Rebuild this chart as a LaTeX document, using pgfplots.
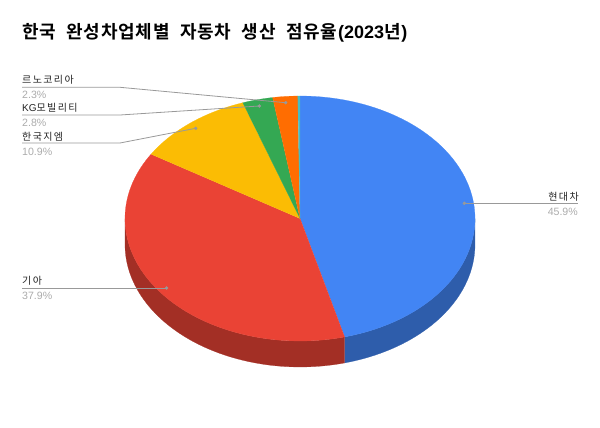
\documentclass[border=0pt]{standalone}
\usepackage{fontspec}
\setmainfont{Liberation Sans}
\newfontfamily\cjk[LetterSpace=14]{Noto Sans CJK KR}
\newfontfamily\cjkt[LetterSpace=4,WordSpace=2.2,BoldFont={Noto Sans CJK KR Bold}]{Noto Sans CJK KR}
\usepackage{pgfplots}
\pgfplotsset{compat=1.18}
\definecolor{cblue}{HTML}{4285F4}
\definecolor{cred}{HTML}{EA4335}
\definecolor{cyellow}{HTML}{FBBC04}
\definecolor{cgreen}{HTML}{34A853}
\definecolor{corange}{HTML}{FF6D01}
\definecolor{cteal}{HTML}{46BDC6}
\definecolor{dblue}{HTML}{2E5DAB}
\definecolor{dred}{HTML}{A32F25}
\definecolor{lead}{HTML}{999999}
\definecolor{pct}{HTML}{ABABAB}
\definecolor{lab}{HTML}{222222}
\newcommand{\addarc}[4]{% macro, from %, to %, y offset
  \pgfmathtruncatemacro\npts{max(2,ceil(abs(#3-#2)/0.5))}%
  \foreach \i in {0,...,\npts}{%
    \pgfmathsetmacro\t{(#2+(#3-#2)*\i/\npts)*3.6}%
    \pgfmathsetmacro\px{300+175*sin(\t)}%
    \pgfmathsetmacro\py{218.5-122.5*cos(\t)+#4}%
    \xdef#1{#1 (\px,\py)}%
  }%
}
\newcommand{\pieslice}[3]{% colour, from %, to %
  \gdef\coords{(300,218.5)}%
  \addarc{\coords}{#2}{#3}{0}%
  \edef\doit{\noexpand\addplot[fill=#1,draw=#1,line width=0.2pt] coordinates {\coords};}\doit
}
\newcommand{\pieside}[3]{% colour, from %, to %
  \gdef\coords{}%
  \addarc{\coords}{#2}{#3}{0}%
  \addarc{\coords}{#3}{#2}{26}%
  \edef\doit{\noexpand\addplot[fill=#1,draw=#1,line width=0.2pt] coordinates {\coords};}\doit
}
\newcommand{\lbl}[3]{\node[anchor=base west,inner sep=0pt] at (axis cs:#1,#2) {#3};}
\newcommand{\lblr}[3]{\node[anchor=base east,inner sep=0pt] at (axis cs:#1,#2) {#3};}
\newcommand{\name}[1]{\fontsize{10}{12}\selectfont\color{lab}#1}
\newcommand{\share}[1]{\fontsize{10.6}{12}\selectfont\color{pct}#1}
\begin{document}
\begin{tikzpicture}
\path[use as bounding box] (0,0) rectangle (600pt,428pt);
\begin{axis}[
  scale only axis, width=600pt, height=428pt,
  xmin=0, xmax=600, ymin=0, ymax=428, y dir=reverse,
  axis lines=none, clip=false, no markers,
]
% side wall (only the front half is visible)
\pieside{dblue}{25}{45.9}
\pieside{dred}{45.9}{75}
% top face; cumulative shares: 45.9, 37.9, 10.9, 2.8, 2.3, 0.2
\pieslice{cblue}{0}{45.9}
\pieslice{cred}{45.9}{83.8}
\pieslice{cyellow}{83.8}{94.7}
\pieslice{cgreen}{94.7}{97.5}
\pieslice{corange}{97.5}{99.8}
\pieslice{cteal}{99.8}{100}
% leaders
\addplot[lead,line width=0.8pt] coordinates {(22,87.3) (120,87.3) (285.7,102.7)};
\addplot[lead,line width=0.8pt] coordinates {(22,115) (120,115) (259.3,106)};
\addplot[lead,line width=0.8pt] coordinates {(22,143) (120,143) (195.7,128.3)};
\addplot[lead,line width=0.8pt] coordinates {(464.3,203.3) (578.3,203.3)};
\addplot[lead,line width=0.8pt] coordinates {(22,288) (166.7,288)};
\addplot[only marks,mark=*,mark size=1.5pt,lead] coordinates {(285.7,102.7) (259.3,106) (195.7,128.3) (464.3,203.3) (166.7,288)};
% title
\lbl{22}{38.5}{\fontsize{18}{20}\selectfont\color{black}{\cjkt\bfseries 한국 완성차업체별 자동차 생산 점유율}\textbf{(2023}{\cjkt\bfseries 년}\textbf{)}}
% labels
\lbl{22}{84}{\name{\cjk 르노코리아}}
\lbl{22}{98.5}{\share{2.3\%}}
\lbl{22}{111.5}{\name{KG{\cjk 모빌리티}}}
\lbl{22}{126.5}{\share{2.8\%}}
\lbl{22}{140}{\name{\cjk 한국지엠}}
\lbl{22}{155}{\share{10.9\%}}
\lbl{22}{284.5}{\name{\cjk 기아}}
\lbl{22}{299.5}{\share{37.9\%}}
\lblr{579}{200}{\name{\cjk 현대차}}
\lblr{578}{215}{\share{45.9\%}}
\end{axis}
\end{tikzpicture}
\end{document}
